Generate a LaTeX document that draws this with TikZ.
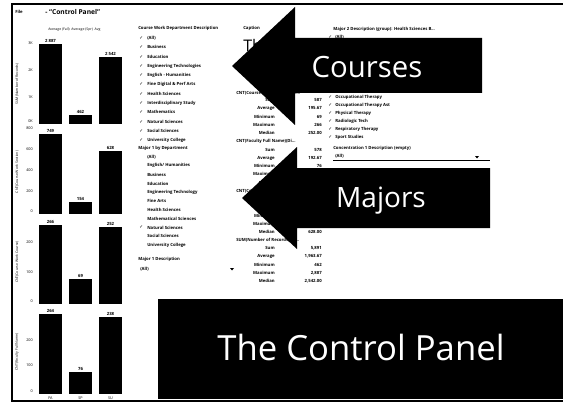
\documentclass[tikz,border=0pt]{standalone}
\usepackage{fontspec}
\setmainfont{Open Sans}
\newfontfamily\symfont{DejaVu Sans}
\newcommand{\chkmark}{{\symfont ✓}}
\begin{document}
\begin{tikzpicture}[x=0.75pt,y=0.75pt,yscale=-1,xscale=1,
    ui/.style={anchor=west,inner sep=0pt,font=\fontsize{3.2}{4}\selectfont\bfseries},
    uir/.style={ui,anchor=east},
    chk/.style={anchor=west,inner sep=0pt,font=\fontsize{3.4}{4}\selectfont},
    barval/.style={anchor=south,inner sep=0.75pt,font=\fontsize{3.2}{4}\selectfont\bfseries},
    axval/.style={anchor=east,inner sep=0pt,font=\fontsize{2.8}{3.5}\selectfont},
    axtitle/.style={inner sep=0pt,rotate=90,font=\fontsize{2.6}{3}\selectfont},
    bigtext/.style={anchor=base,inner sep=0pt,text=white}]
    \useasboundingbox (0,0) rectangle (563,406);
    % window frame
    \draw [line width=1.5pt] (11,4) -- (563,4) ;
    \draw [line width=2pt] (12,4) -- (12,401) ;
    \draw [line width=0.8pt] (11,401) -- (563,401) ;
    \draw (15,12) node [ui] (file) {File};
    \draw (45,12) node [anchor=west][inner sep=0pt] [font=\fontsize{5}{6}\selectfont\bfseries] (title) {- ``Control Panel''};
    \draw (48,30) node [anchor=west][inner sep=0pt] [font=\fontsize{2.6}{3}\selectfont] (legend) {Average (Fall) \ Average (Spr) \ Avg};
    % bar panel 1
    \draw (17,84) node [axtitle] (ax1) {SUM(Number of Records)};
    \draw (33,43) node [axval] (t1a) {3K};
    \draw (33,70) node [axval] (t1b) {2K};
    \draw (33,97) node [axval] (t1c) {1K};
    \draw (33,121) node [axval] (t1d) {0K};
    \fill (39,124) rectangle (62,44) ;
    \fill (69,124) rectangle (92,115) ;
    \fill (99,124) rectangle (122,57) ;
    \draw (50.5,44) node [barval] (v1a) {2 887};
    \draw (80.5,115) node [barval] (v1b) {462};
    \draw (110.5,57) node [barval] (v1c) {2 542};
    % bar panel 2
    \draw (17,172) node [axtitle] (ax2) {CNT(Course Work Section)};
    \draw (33,128) node [axval] (t2a) {800};
    \draw (33,149) node [axval] (t2b) {600};
    \draw (33,170) node [axval] (t2c) {400};
    \draw (33,191) node [axval] (t2d) {200};
    \draw (33,211) node [axval] (t2e) {0};
    \fill (39,214) rectangle (62,134) ;
    \fill (69,214) rectangle (92,202) ;
    \fill (99,214) rectangle (122,151) ;
    \draw (50.5,134) node [barval] (v2a) {749};
    \draw (80.5,202) node [barval] (v2b) {154};
    \draw (110.5,151) node [barval] (v2c) {628};
    % bar panel 3
    \draw (17,262) node [axtitle] (ax3) {CNT(Course Work Course)};
    \draw (33,242) node [axval] (t3a) {200};
    \draw (33,272) node [axval] (t3b) {100};
    \draw (33,301) node [axval] (t3c) {0};
    \fill (39,304) rectangle (62,225) ;
    \fill (69,304) rectangle (92,279) ;
    \fill (99,304) rectangle (122,227) ;
    \draw (50.5,225) node [barval] (v3a) {266};
    \draw (80.5,279) node [barval] (v3b) {69};
    \draw (110.5,227) node [barval] (v3c) {252};
    % bar panel 4
    \draw (17,352) node [axtitle] (ax4) {CNT(Faculty Full Name)};
    \draw (33,340) node [axval] (t4a) {200};
    \draw (33,365) node [axval] (t4b) {100};
    \draw (33,391) node [axval] (t4c) {0};
    \fill (39,394) rectangle (62,314) ;
    \fill (69,394) rectangle (92,372) ;
    \fill (99,394) rectangle (122,317) ;
    \draw (50.5,314) node [barval] (v4a) {264};
    \draw (80.5,372) node [barval] (v4b) {76};
    \draw (110.5,317) node [barval] (v4c) {238};
    \draw (50.5,398) node [axval,anchor=center] (xa) {FA};
    \draw (80.5,398) node [axval,anchor=center] (xb) {SP};
    \draw (110.5,398) node [axval,anchor=center] (xc) {SU};
    % course work department filter
    \draw (138,28) node [ui] (cwhead) {Course Work Department Description};
    \draw (139,38) node [chk] (c1) {\chkmark};
    \draw (139,47.3) node [chk] (c2) {\chkmark};
    \draw (139,56.6) node [chk] (c3) {\chkmark};
    \draw (139,65.9) node [chk] (c4) {\chkmark};
    \draw (139,75.2) node [chk] (c5) {\chkmark};
    \draw (139,84.5) node [chk] (c6) {\chkmark};
    \draw (139,93.8) node [chk] (c7) {\chkmark};
    \draw (139,103.1) node [chk] (c8) {\chkmark};
    \draw (139,112.4) node [chk] (c9) {\chkmark};
    \draw (139,121.7) node [chk] (c10) {\chkmark};
    \draw (139,131) node [chk] (c11) {\chkmark};
    \draw (139,140.3) node [chk] (c12) {\chkmark};
    \draw (147,38) node [ui] (d1) {(All)};
    \draw (147,47.3) node [ui] (d2) {Business};
    \draw (147,56.6) node [ui] (d3) {Education};
    \draw (147,65.9) node [ui] (d4) {Engineering Technologies};
    \draw (147,75.2) node [ui] (d5) {English - Humanities};
    \draw (147,84.5) node [ui] (d6) {Fine Digital \& Perf Arts};
    \draw (147,93.8) node [ui] (d7) {Health Sciences};
    \draw (147,103.1) node [ui] (d8) {Interdisciplinary Study};
    \draw (147,112.4) node [ui] (d9) {Mathematics};
    \draw (147,121.7) node [ui] (d10) {Natural Sciences};
    \draw (147,131) node [ui] (d11) {Social Sciences};
    \draw (147,140.3) node [ui] (d12) {University College};
    % major 1 filter
    \draw (138,148) node [ui] (mhead) {Major 1 by Department};
    \draw (147,157) node [ui] (m1) {(All)};
    \draw (147,165.8) node [ui] (m2) {English/ Humanities};
    \draw (147,174.6) node [ui] (m3) {Business};
    \draw (147,183.4) node [ui] (m4) {Education};
    \draw (147,192.2) node [ui] (m5) {Engineering Technology};
    \draw (147,201) node [ui] (m6) {Fine Arts};
    \draw (147,209.8) node [ui] (m7) {Health Sciences};
    \draw (147,218.6) node [ui] (m8) {Mathematical Sciences};
    \draw (139,227.4) node [chk] (mc9) {\chkmark};
    \draw (147,227.4) node [ui] (m9) {Natural Sciences};
    \draw (147,236.2) node [ui] (m10) {Social Sciences};
    \draw (147,245) node [ui] (m11) {University College};
    \draw (138,259) node [ui] (m1dhead) {Major 1 Description};
    \draw (140,269) node [ui] (m1dall) {(All)};
    \fill (230,268) -- (234,268) -- (232,270.5) -- cycle ;
    % caption and statistics
    \draw (243,28) node [ui] (caphead) {Caption};
    \draw (243,52) node [anchor=base west][inner sep=0pt] [font=\fontsize{12}{14}\selectfont] (captext) {The Control Panel};
    \draw (236,93) node [ui] (sAhead) {CNT(Course Work Course)(Di...};
    \draw (275,100) node [uir] (sAl1) {Sum};
    \draw (275,108) node [uir] (sAl2) {Average};
    \draw (275,116.5) node [uir] (sAl3) {Minimum};
    \draw (275,124.5) node [uir] (sAl4) {Maximum};
    \draw (275,133) node [uir] (sAl5) {Median};
    \draw (322,100) node [uir] (sAv1) {587};
    \draw (322,108) node [uir] (sAv2) {195.67};
    \draw (322,116.5) node [uir] (sAv3) {69};
    \draw (322,124.5) node [uir] (sAv4) {266};
    \draw (322,133) node [uir] (sAv5) {252.00};
    \draw (236,141.5) node [ui] (sBhead) {CNT(Faculty Full Name)(Di...};
    \draw (275,150) node [uir] (sBl1) {Sum};
    \draw (275,158) node [uir] (sBl2) {Average};
    \draw (275,166) node [uir] (sBl3) {Minimum};
    \draw (275,174) node [uir] (sBl4) {Maximum};
    \draw (275,182.5) node [uir] (sBl5) {Median};
    \draw (322,150) node [uir] (sBv1) {578};
    \draw (322,158) node [uir] (sBv2) {192.67};
    \draw (322,166) node [uir] (sBv3) {76};
    \draw (322,174) node [uir] (sBv4) {264};
    \draw (322,182.5) node [uir] (sBv5) {238.00};
    \draw (236,191) node [ui] (sChead) {CNT(Course Work Section)(Di...};
    \draw (275,199) node [uir] (sCl1) {Sum};
    \draw (275,207.5) node [uir] (sCl2) {Average};
    \draw (275,216) node [uir] (sCl3) {Minimum};
    \draw (275,224) node [uir] (sCl4) {Maximum};
    \draw (275,232) node [uir] (sCl5) {Median};
    \draw (322,232) node [uir] (sCv5) {628.00};
    \draw (236,240) node [ui] (sDhead) {SUM(Number of Records)(Di...};
    \draw (275,248) node [uir] (sDl1) {Sum};
    \draw (275,256.5) node [uir] (sDl2) {Average};
    \draw (275,264.5) node [uir] (sDl3) {Minimum};
    \draw (275,273) node [uir] (sDl4) {Maximum};
    \draw (275,281) node [uir] (sDl5) {Median};
    \draw (322,248) node [uir] (sDv1) {5,891};
    \draw (322,256.5) node [uir] (sDv2) {1,963.67};
    \draw (322,264.5) node [uir] (sDv3) {462};
    \draw (322,273) node [uir] (sDv4) {2,887};
    \draw (322,281) node [uir] (sDv5) {2,542.00};
    % major 2 filter
    \draw (333,29) node [ui] (m2head) {Major 2 Description (group): Health Sciences B...};
    \draw (328,37) node [chk] (n0c) {\chkmark};
    \draw (335,37) node [ui] (n0) {(All)};
    \draw (328,97) node [chk] (n1c) {\chkmark};
    \draw (328,105) node [chk] (n2c) {\chkmark};
    \draw (328,113) node [chk] (n3c) {\chkmark};
    \draw (328,121) node [chk] (n4c) {\chkmark};
    \draw (328,129) node [chk] (n5c) {\chkmark};
    \draw (328,137) node [chk] (n6c) {\chkmark};
    \draw (335,97) node [ui] (n1) {Occupational Therapy};
    \draw (335,105) node [ui] (n2) {Occupational Therapy Ast};
    \draw (335,113) node [ui] (n3) {Physical Therapy};
    \draw (335,121) node [ui] (n4) {Radiologic Tech};
    \draw (335,129) node [ui] (n5) {Respiratory Therapy};
    \draw (335,137) node [ui] (n6) {Sport Studies};
    \draw (333,148) node [ui] (conchead) {Concentration 1 Description (empty)};
    \draw (335,156) node [ui] (conall) {(All)};
    \draw [line width=0.4pt] (333,160) -- (490,160) ;
    \fill (475,156) -- (479,156) -- (477,158.5) -- cycle ;
    % callouts
    \fill (232,66) -- (295,7) -- (295,38) -- (482,38) -- (482,93) -- (295,93) -- (295,125) -- cycle ;
    \draw (367,78) node [bigtext] [font=\fontsize{22}{26}\selectfont] (courses) {Courses};
    \fill (242,198) -- (297,147) -- (297,168) -- (490,168) -- (490,228) -- (297,228) -- (297,249) -- cycle ;
    \draw (381,207) node [bigtext] [font=\fontsize{21}{25}\selectfont] (majors) {Majors};
    \fill (158,299) rectangle (563,399) ;
    \draw (361,360) node [bigtext] [font=\fontsize{26}{30}\selectfont] (panel) {The Control Panel};
\end{tikzpicture}
\end{document}
